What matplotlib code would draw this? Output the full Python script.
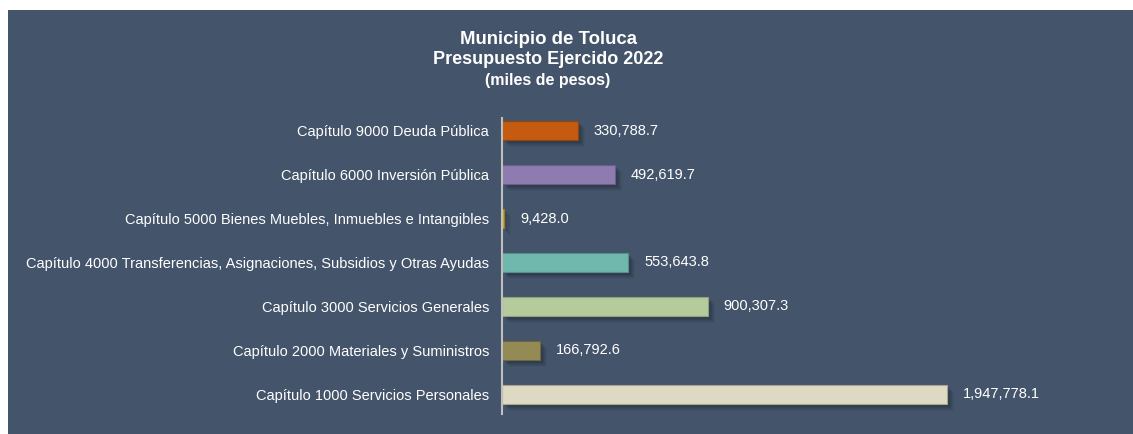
import matplotlib
matplotlib.use("Agg")
import matplotlib.pyplot as plt
from matplotlib.patches import Rectangle
import matplotlib.transforms as mtransforms

plt.rcParams['font.family'] = ['Liberation Sans', 'DejaVu Sans']

categories = [
    "Capítulo 1000 Servicios Personales",
    "Capítulo 2000 Materiales y Suministros",
    "Capítulo 3000 Servicios Generales",
    "Capítulo 4000 Transferencias, Asignaciones, Subsidios y Otras Ayudas",
    "Capítulo 5000 Bienes Muebles, Inmuebles e Intangibles",
    "Capítulo 6000 Inversión Pública",
    "Capítulo 9000 Deuda Pública",
]
values = [1947778.1, 166792.6, 900307.3, 553643.8, 9428.0, 492619.7, 330788.7]
colors = ["#DDD9C3", "#948A54", "#B5CB9C", "#70B7AD", "#D4A51C", "#8E7CB0", "#C55A11"]
edge_colors = ["#A8A494", "#6E663E", "#8FA27A", "#55918A", "#A07C10", "#6C5E88", "#93430C"]

bg = "#44546A"
W, H = 1133, 434
fig = plt.figure(figsize=(W / 100, H / 100), dpi=100)
fig.patch.set_facecolor("white")
fig.patches.append(Rectangle((8 / W, 0), 1 - 8 / W, 1 - 10 / H, transform=fig.transFigure,
                             facecolor=bg, edgecolor="none", zorder=-10))

ax = fig.add_axes([502 / W, (H - 416) / H, (1126 - 502) / W, (416 - 109) / H])
ax.set_zorder(5)
ax.set_facecolor("none")
xmax = 1947778.1 * (1126 - 502) / (947 - 502)
ax.set_xlim(0, xmax)
ax.set_ylim(-0.5, len(values) - 0.5)

ypos = list(range(len(values)))
bh = 0.43
# shadows
for dx, dy, a in [(7, -7, 0.06), (6, -6, 0.08), (5, -5, 0.10), (4, -4, 0.13), (3, -3, 0.16)]:
    tr = ax.transData + mtransforms.ScaledTranslation(dx / 100, dy / 100, fig.dpi_scale_trans)
    for y, v in zip(ypos, values):
        ax.add_patch(Rectangle((0, y - bh / 2), v, bh, facecolor="#1a2230", alpha=a,
                               edgecolor="none", transform=tr, zorder=1))
ax.barh(ypos, values, height=bh, color=colors, edgecolor=edge_colors, linewidth=0.8, zorder=2)

for y, v in zip(ypos, values):
    ax.annotate(f"{v:,.1f}", xy=(v, y), xytext=(16, 0), textcoords="offset pixels",
                va="center", ha="left", color="white", fontsize=10.5)

ax.set_yticks(ypos)
ax.set_yticklabels(categories, color="white", fontsize=10.5)
ax.tick_params(axis="y", length=0, pad=9.4)
ax.set_xticks([])
for s in ["top", "right", "bottom"]:
    ax.spines[s].set_visible(False)
ax.spines["left"].set_color("#BFBFBF")
ax.spines["left"].set_linewidth(1.5)
ax.spines["left"].set_bounds(-0.45, 6.3)

cx = 548 / W
fig.text(cx, 1 - 39 / H, "Municipio de Toluca", ha="center", va="center", color="white",
         fontsize=13.4, fontweight="bold")
fig.text(cx, 1 - 59 / H, "Presupuesto Ejercido 2022", ha="center", va="center", color="white",
         fontsize=13, fontweight="bold")
fig.text(cx, 1 - 81 / H, "(miles de pesos)", ha="center", va="center", color="white",
         fontsize=11.5, fontweight="bold")

fig.savefig("out.png", dpi=100, facecolor=fig.get_facecolor())
